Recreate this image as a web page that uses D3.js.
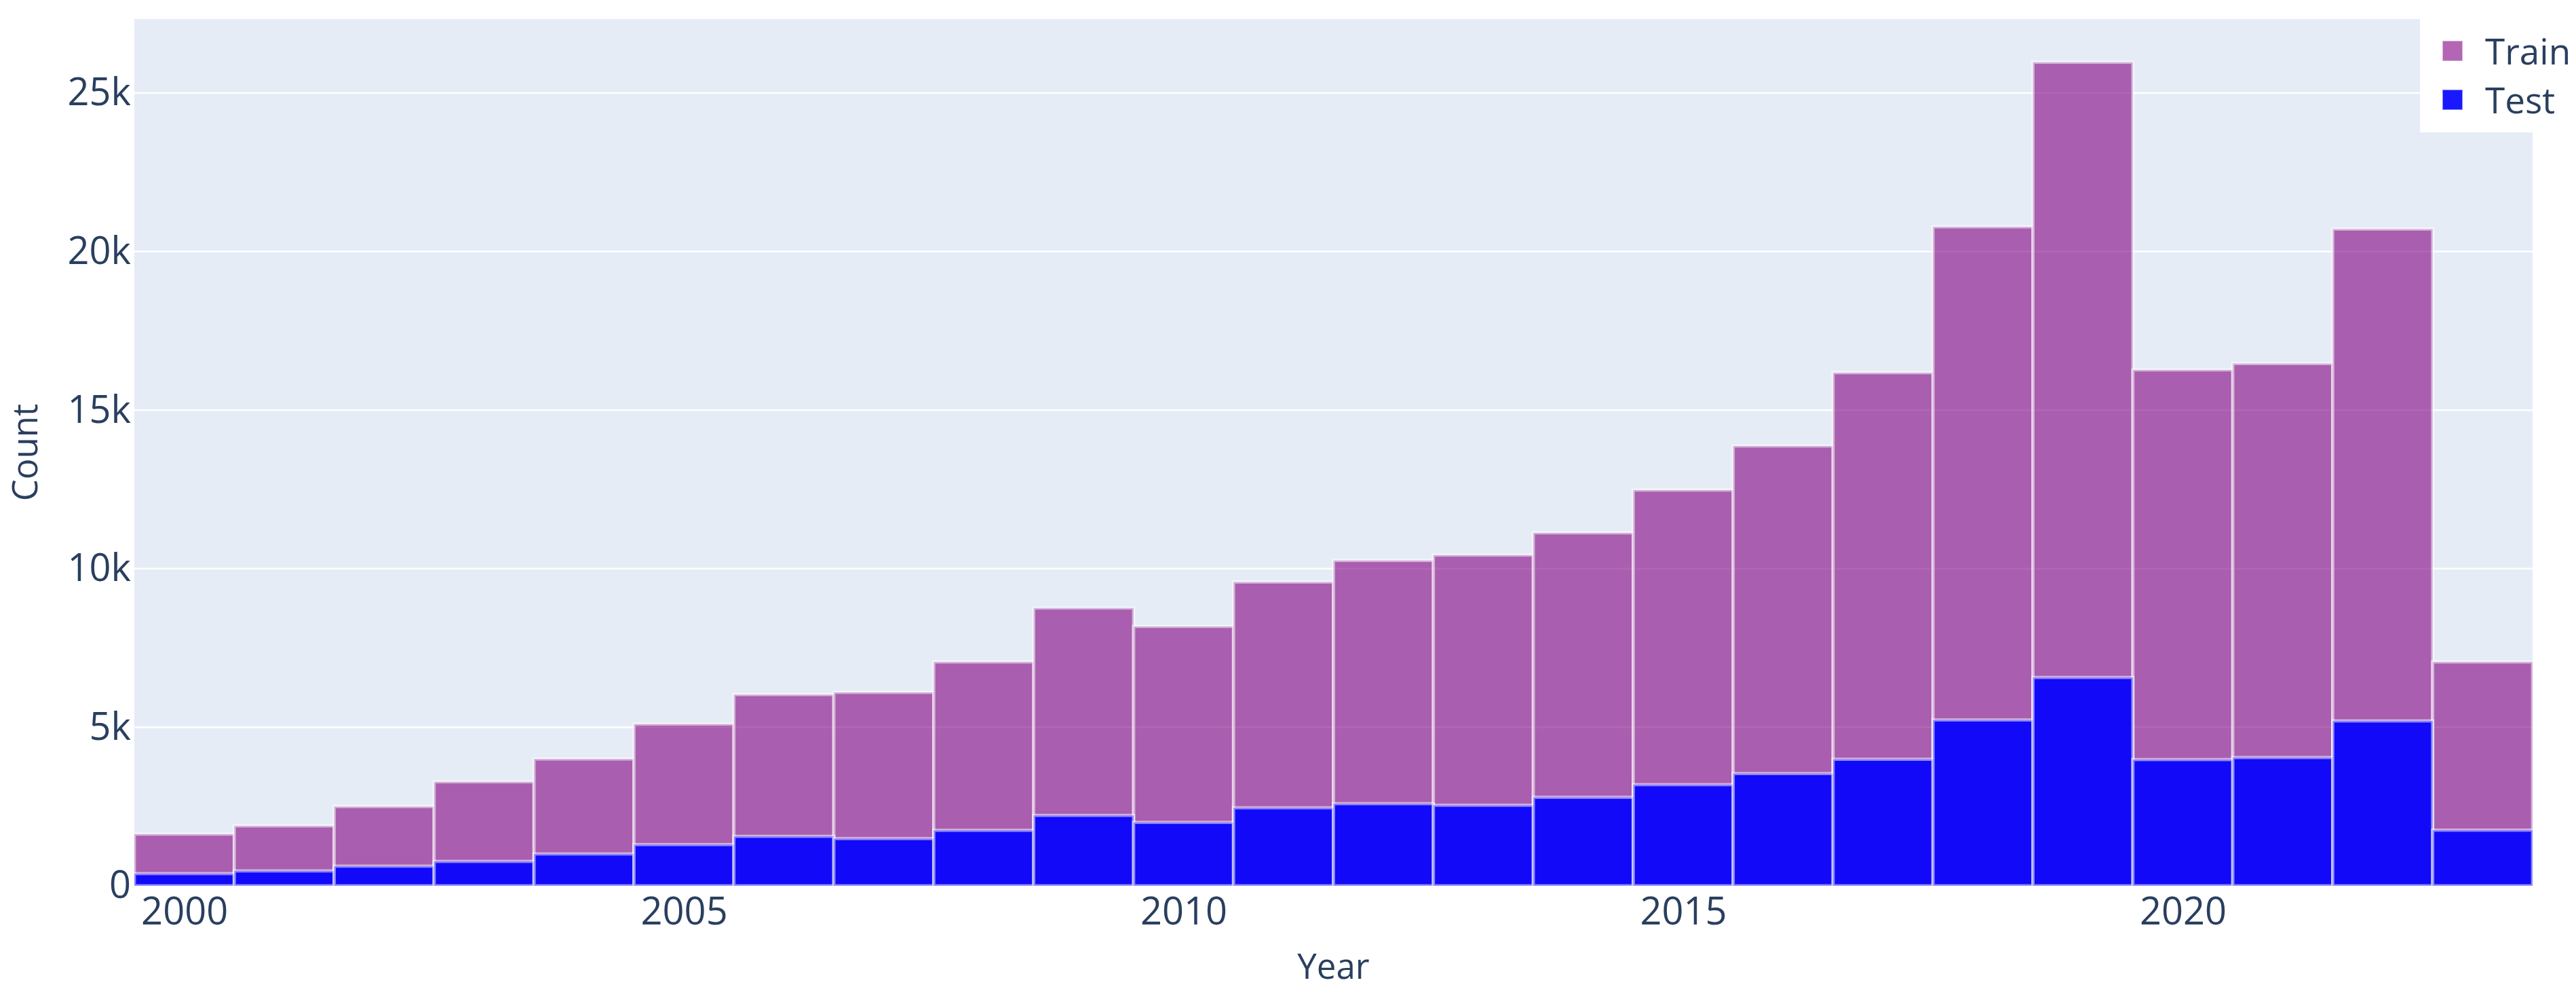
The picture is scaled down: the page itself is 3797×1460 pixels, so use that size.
<!DOCTYPE html>
<html>
<head>
<meta charset="utf-8">
<script src="https://cdn.jsdelivr.net/npm/d3@7"></script>
<style>
  html, body { margin: 0; padding: 0; background: #ffffff; }
  svg { display: block; }
  text { font-family: "Open Sans", "Noto Sans", sans-serif; fill: #2a3f5f; }
</style>
</head>
<body>
<svg id="chart" width="3797" height="1460"></svg>
<script>
// ---- data ----
const years = [2000, 2001, 2002, 2003, 2004, 2005, 2006, 2007, 2008, 2009, 2010, 2011,
               2012, 2013, 2014, 2015, 2016, 2017, 2018, 2019, 2020, 2021, 2022, 2023];
const trainCounts = [1630, 1890, 2500, 3280, 4000, 5100, 6030, 6100, 7060, 8760, 8180, 9580,
                     10260, 10430, 11130, 12480, 13870, 16180, 20780, 25970, 16270, 16470, 20710, 7060];
const testCounts = [385, 470, 620, 770, 1005, 1300, 1560, 1490, 1750, 2220, 2000, 2460,
                    2590, 2540, 2790, 3190, 3540, 3990, 5230, 6570, 3980, 4045, 5200, 1755];
const seriesNames = ["Train", "Test"];
const xTickValues = [2000, 2005, 2010, 2015, 2020];
const yTickValues = [0, 5000, 10000, 15000, 20000, 25000];

// ---- layout ----
const W = 3797, H = 1460;
const plot = { left: 198, right: 3733, top: 28, bottom: 1305 };
const colors = { Train: "purple", Test: "blue" };
const opac = { Train: 0.6, Test: 0.9 };

const svg = d3.select("#chart");

const x = d3.scaleLinear()
  .domain([years[0] - 0.5, years[years.length - 1] + 0.5])
  .range([plot.left, plot.right]);
const y = d3.scaleLinear()
  .domain([0, d3.max(trainCounts) * 1.0525])
  .range([plot.bottom, plot.top]);

// plot background
svg.append("rect")
  .attr("x", plot.left).attr("y", plot.top)
  .attr("width", plot.right - plot.left).attr("height", plot.bottom - plot.top)
  .attr("fill", "#E5ECF6");

// gridlines
svg.append("g").selectAll("line")
  .data(yTickValues.filter(d => d > 0))
  .join("line")
  .attr("x1", plot.left).attr("x2", plot.right)
  .attr("y1", d => y(d)).attr("y2", d => y(d))
  .attr("stroke", "#ffffff").attr("stroke-width", 2.5);

// clip
svg.append("clipPath").attr("id", "clip")
  .append("rect")
  .attr("x", plot.left).attr("y", plot.top)
  .attr("width", plot.right - plot.left).attr("height", plot.bottom - plot.top);

const barsG = svg.append("g").attr("clip-path", "url(#clip)");

function drawSeries(values, name) {
  const data = years.map((yr, i) => ({ yr, v: values[i] }));
  barsG.append("g").selectAll("rect")
    .data(data)
    .join("rect")
    .attr("x", d => x(d.yr - 0.5))
    .attr("width", d => x(d.yr + 0.5) - x(d.yr - 0.5))
    .attr("y", d => y(d.v))
    .attr("height", d => y(0) - y(d.v))
    .attr("fill", colors[name])
    .attr("fill-opacity", opac[name])
    .attr("stroke", "#ffffff")
    .attr("stroke-opacity", 0.5)
    .attr("stroke-width", 4.8);
}
drawSeries(trainCounts, "Train");
drawSeries(testCounts, "Test");

// y axis
const yAxis = svg.append("g")
  .attr("transform", `translate(${plot.left},0)`)
  .call(d3.axisLeft(y).tickValues(yTickValues).tickSize(0).tickPadding(5)
    .tickFormat(d => d === 0 ? "0" : (d / 1000) + "k"));
yAxis.select(".domain").remove();
yAxis.selectAll("text")
  .attr("font-size", 56)
  .attr("font-family", "'Open Sans', sans-serif")
  .attr("fill", "#2a3f5f");

// x axis
const xAxis = svg.append("g")
  .attr("transform", `translate(0,${plot.bottom})`)
  .call(d3.axisBottom(x).tickValues(xTickValues).tickSize(0).tickFormat(d3.format("d")));
xAxis.select(".domain").remove();
xAxis.selectAll("text")
  .attr("y", 57).attr("dy", 0)
  .attr("font-size", 56)
  .attr("font-family", "'Open Sans', sans-serif")
  .attr("fill", "#2a3f5f");

// axis titles
svg.append("text")
  .attr("x", (plot.left + plot.right) / 2).attr("y", 1442)
  .attr("text-anchor", "middle")
  .attr("font-size", 51)
  .text("Year");
svg.append("text")
  .attr("transform", `translate(55,${(plot.top + plot.bottom) / 2}) rotate(-90)`)
  .attr("text-anchor", "middle")
  .attr("font-size", 51)
  .text("Count");

// legend
const leg = svg.append("g");
leg.append("rect")
  .attr("x", 3567).attr("y", plot.top)
  .attr("width", W - 3567).attr("height", 195 - plot.top)
  .attr("fill", "#ffffff");
seriesNames.forEach((name, i) => {
  const cy = 75 + i * 72;
  leg.append("rect")
    .attr("x", 3600).attr("y", cy - 15)
    .attr("width", 30).attr("height", 30)
    .attr("fill", colors[name]).attr("fill-opacity", opac[name])
    .attr("stroke", "#ffffff").attr("stroke-opacity", 0.5).attr("stroke-width", 2);
  leg.append("text")
    .attr("x", 3663).attr("y", cy + 20)
    .attr("font-size", 53)
    .text(name);
});
</script>
</body>
</html>
